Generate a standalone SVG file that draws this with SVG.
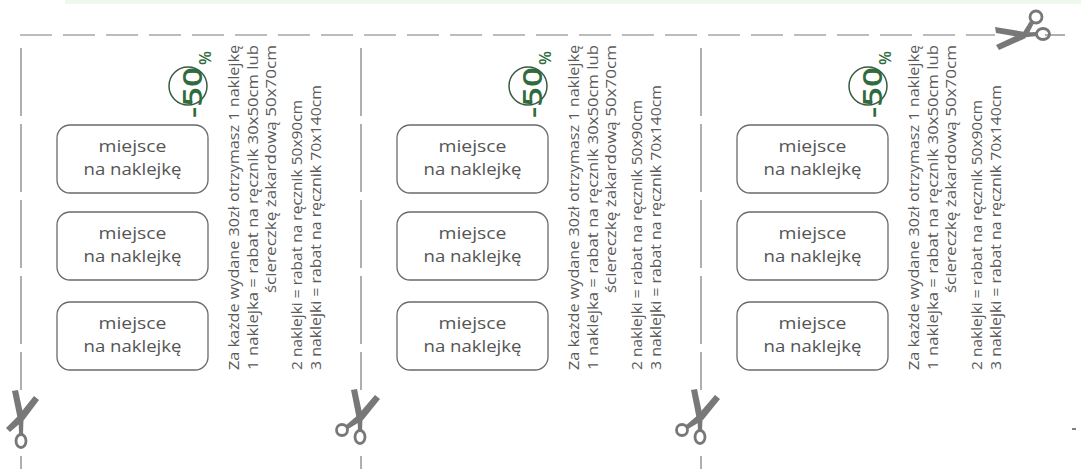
<svg xmlns="http://www.w3.org/2000/svg" xmlns:xlink="http://www.w3.org/1999/xlink" width="1081" height="469" viewBox="0 0 1081 469">
<style>
.bg{fill:#ffffff}
.cut{stroke:#7a7a7a;stroke-width:1.2;fill:none}
.cuth{stroke-dasharray:32 11}
.cutv{stroke-dasharray:68 8}
.box{fill:#ffffff;stroke:#6a6a6a;stroke-width:1.3}
.bt{font-family:"Open Sans","Liberation Sans",sans-serif;font-size:16.5px;fill:#555555;text-anchor:middle}
.rt{font-family:"Open Sans","Liberation Sans",sans-serif;font-size:14px;fill:#5a5a5a}
.badge{fill:none;stroke:#3a5a43;stroke-width:1.5}
.bn{font-family:"Open Sans","Liberation Sans",sans-serif;font-weight:600;font-size:27px;fill:#2f6b3c}
.pc{font-family:"Open Sans","Liberation Sans",sans-serif;font-weight:600;font-size:16px;fill:#2f6b3c}
.sc{fill:#787878}
.ring{fill:none;stroke:#787878;stroke-width:2.8}
</style>
<defs>
<g id="scissors">
<path class="sc" d="M-9,-28 L-3,-29 L3,0 L-3,2 Z"/>
<path class="sc" d="M15,-23 L20,-19 L3,2 L-3,-2 Z"/>
<path class="sc" d="M-2,-3 L3,2 L-12,11 L-15,8 Z"/>
<path class="sc" d="M-2.5,0 L2.5,0 L2,13 L-2,13 Z"/>
<circle class="ring" cx="-18" cy="12" r="5.5"/>
<ellipse class="ring" cx="0" cy="19" rx="5" ry="6.5"/>
</g>
<g id="card">
<g id="badge">
<circle class="badge" cx="188" cy="86" r="19"/>
<text class="bn" transform="translate(202,118) rotate(-90)" textLength="51" lengthAdjust="spacingAndGlyphs">-50</text>
<text class="pc" transform="translate(211,65) rotate(-90)" textLength="14" lengthAdjust="spacingAndGlyphs">%</text>
</g>
<g id="box-a">
<rect class="box" x="57" y="125" width="151" height="68" rx="13"/>
<text class="bt" x="132.5" y="152" textLength="68" lengthAdjust="spacingAndGlyphs">miejsce</text>
<text class="bt" x="132.5" y="175" textLength="98" lengthAdjust="spacingAndGlyphs">na naklejkę</text>
</g>
<g id="box-b">
<rect class="box" x="57" y="212" width="151" height="68" rx="13"/>
<text class="bt" x="132.5" y="239" textLength="68" lengthAdjust="spacingAndGlyphs">miejsce</text>
<text class="bt" x="132.5" y="262" textLength="98" lengthAdjust="spacingAndGlyphs">na naklejkę</text>
</g>
<g id="box-c">
<rect class="box" x="57" y="302" width="151" height="68" rx="13"/>
<text class="bt" x="132.5" y="329" textLength="68" lengthAdjust="spacingAndGlyphs">miejsce</text>
<text class="bt" x="132.5" y="352" textLength="98" lengthAdjust="spacingAndGlyphs">na naklejkę</text>
</g>
<g id="info">
<text class="rt" transform="translate(239,370) rotate(-90)" textLength="325" lengthAdjust="spacingAndGlyphs">Za każde wydane 30zł otrzymasz 1 naklejkę</text>
<text class="rt" transform="translate(258,370) rotate(-90)" textLength="325" lengthAdjust="spacingAndGlyphs">1 naklejka = rabat na ręcznik 30x50cm lub</text>
<text class="rt" transform="translate(276,293) rotate(-90)" textLength="248" lengthAdjust="spacingAndGlyphs">ściereczkę żakardową 50x70cm</text>
<text class="rt" transform="translate(302,370) rotate(-90)" textLength="270" lengthAdjust="spacingAndGlyphs">2 naklejki = rabat na ręcznik 50x90cm</text>
<text class="rt" transform="translate(321,370) rotate(-90)" textLength="285" lengthAdjust="spacingAndGlyphs">3 naklejki = rabat na ręcznik 70x140cm</text>
</g>
</g>
</defs>
<rect class="bg" x="0" y="0" width="1081" height="469"/>
<rect x="65" y="0" width="1016" height="4" fill="#eef8ec"/>
<g id="cut-lines">
<line class="cut cuth" x1="20" y1="35" x2="995" y2="35"/>
<line class="cut" x1="1045" y1="35" x2="1065" y2="35"/>
<line class="cut cutv" x1="21" y1="48" x2="21" y2="390"/>
<line class="cut cutv" x1="361" y1="48" x2="361" y2="390"/>
<line class="cut cutv" x1="701" y1="48" x2="701" y2="390"/>
<line class="cut" x1="21" y1="456" x2="21" y2="469"/>
<line class="cut" x1="361" y1="456" x2="361" y2="469"/>
<line class="cut" x1="701" y1="456" x2="701" y2="469"/>
</g>
<g id="column-1"><use xlink:href="#card"/></g>
<g id="column-2"><use xlink:href="#card" transform="translate(340,0)"/></g>
<g id="column-3"><use xlink:href="#card" transform="translate(680,0)"/></g>
<g id="scissors-1" transform="translate(21,418)">
<path class="sc" d="M-9,-27 L-3,-28 L3,0 L-3,2 Z"/>
<path class="sc" d="M13,-22 L18,-18 L3,2 L-3,-2 Z"/>
<path class="sc" d="M-2,-3 L3,2 L-11,14 L-15,10 Z"/>
<path class="sc" d="M-2.5,0 L2.5,0 L2,16 L-2,16 Z"/>
<ellipse class="ring" cx="0" cy="23" rx="5" ry="6.5"/>
</g>
<g id="scissors-2"><use xlink:href="#scissors" transform="translate(360,418)"/></g>
<g id="scissors-3"><use xlink:href="#scissors" transform="translate(700,418)"/></g>
<g id="scissors-4">
<path class="sc" d="M995,27 L996,33 L1025,38 L1025,32 Z"/>
<path class="sc" d="M996,45 L999,50 L1026,38 L1022,33 Z"/>
<path class="sc" d="M1022,34 L1027,37 L1034,23 L1030,21 Z"/>
<path class="sc" d="M1023,32.5 L1023,37.5 L1037,36 L1037,32 Z"/>
<circle class="ring" cx="1036" cy="17" r="6"/>
<ellipse class="ring" cx="1043" cy="34" rx="6.5" ry="5.5"/>
</g>
<line x1="1072" y1="429" x2="1076" y2="429" stroke="#555" stroke-width="1.5"/>
</svg>
